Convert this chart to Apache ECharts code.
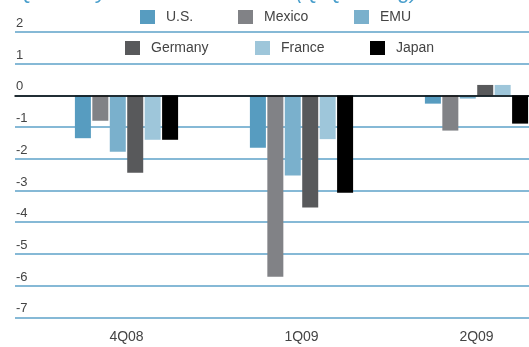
<!DOCTYPE html>
<html>
<head>
<meta charset="utf-8">
<script src="https://cdn.jsdelivr.net/npm/echarts@6/dist/echarts.min.js"></script>
<style>html,body{margin:0;padding:0;background:#fff}#c{width:529px;height:347px}</style>
</head>
<body>
<div id="c"></div>
<script>
var categories = ['4Q08', '1Q09', '2Q09'];
var seriesNames = ['U.S.', 'Mexico', 'EMU', 'Germany', 'France', 'Japan'];
var usValues = [-1.35, -1.65, -0.26];
var mexicoValues = [-0.8, -5.72, -1.11];
var emuValues = [-1.78, -2.53, -0.1];
var germanyValues = [-2.44, -3.54, 0.33];
var franceValues = [-1.4, -1.38, 0.33];
var japanValues = [-1.4, -3.07, -0.89];
var yTicks = [2, 1, 0, -1, -2, -3, -4, -5, -6, -7];

var colors = ['#579cc0', '#818286', '#7ab0cc', '#58595b', '#9ec6da', '#000000'];
var allValues = [usValues, mexicoValues, emuValues, germanyValues, franceValues, japanValues];
var font = 'Liberation Sans, Arial, sans-serif';

var legendPos = [[140, 10], [238, 10], [354, 10], [125, 41], [255, 41], [370, 41]];
var legends = seriesNames.map(function (n, i) {
  return {
    data: [n], left: legendPos[i][0], top: legendPos[i][1], padding: 0,
    itemWidth: 15, itemHeight: 14, selectedMode: false,
    icon: 'rect',
    textStyle: { fontFamily: font, fontSize: 14, color: '#444', padding: [0, 0, 0, 6] }
  };
});

var series = seriesNames.map(function (n, i) {
  return {
    name: n, type: 'bar', xAxisIndex: 1, yAxisIndex: 1,
    data: allValues[i], barWidth: 16, barGap: '9%',
    itemStyle: { color: colors[i] }, z: 3
  };
});
series.push({ type: 'bar', xAxisIndex: 0, yAxisIndex: 0, data: [], silent: true });

var chart = echarts.init(document.getElementById('c'), null, { renderer: 'canvas' });
chart.setOption({
  animation: false,
  title: {
    text: 'Quarterly Real GDP Growth (Q/Q % chg)',
    left: 12, top: -24,
    textStyle: { fontFamily: font, fontSize: 22, fontStyle: 'italic', fontWeight: 'normal', color: '#4a9fcc' }
  },
  legend: legends,
  grid: [
    { left: 15, right: 0, top: 32, bottom: 29.7, outerBoundsMode: 'none' },
    { left: 39, width: 525, top: 32, bottom: 29.7, outerBoundsMode: 'none' }
  ],
  xAxis: [
    { type: 'category', gridIndex: 0, data: ['a'], axisTick: { show: false }, axisLabel: { show: false },
      axisLine: { show: true, onZero: true, lineStyle: { color: '#000', width: 1.5 } }, z: 5 },
    { type: 'category', gridIndex: 1, data: categories,
      axisLine: { show: false }, axisTick: { show: false },
      axisLabel: { fontFamily: font, fontSize: 14, color: '#444', margin: 13 } }
  ],
  yAxis: [
    { type: 'value', gridIndex: 0, min: -7, max: 2, interval: 1,
      axisLine: { show: false }, axisTick: { show: false },
      axisLabel: { inside: true, margin: 1, align: 'left', verticalAlign: 'bottom', padding: [0, 0, 2, 0],
        fontFamily: font, fontSize: 13, color: '#444',
        formatter: function (v) { return yTicks.indexOf(v) >= 0 ? String(v) : ''; } },
      splitLine: { show: true, lineStyle: { color: '#86b9d6', width: 2 } } },
    { type: 'value', gridIndex: 1, min: -7, max: 2, interval: 1, show: false, splitLine: { show: false } }
  ],
  series: series
});
</script>
</body>
</html>
